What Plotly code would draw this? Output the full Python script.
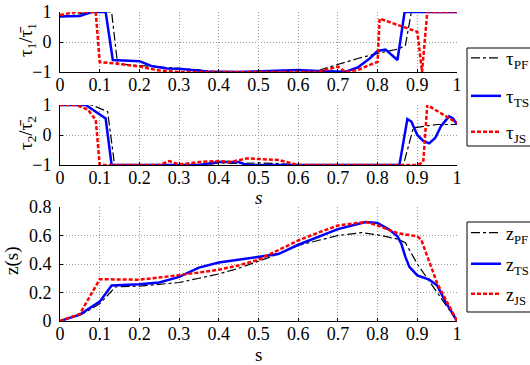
import plotly.graph_objects as go

# ---------------- data ----------------
# tau_1 / tau_1bar
t1_pf_s = [0, 0.03, 0.07, 0.13, 0.145, 0.2, 0.25, 0.3, 0.35, 0.4, 0.5, 0.6, 0.65, 0.7, 0.75, 0.8, 0.85, 0.87, 0.885, 0.9, 1]
t1_pf_v = [0.85, 0.88, 1, 1, -0.73, -0.78, -0.82, -0.86, -0.93, -1, -1, -0.98, -0.95, -0.75, -0.55, -0.38, -0.24, -0.12, 1, 1, 1]

t1_ts_s = [0, 0.05, 0.08, 0.115, 0.133, 0.17, 0.2, 0.23, 0.27, 0.3, 0.33, 0.37, 0.45, 0.5, 0.55, 0.6, 0.65, 0.7, 0.72, 0.75, 0.78, 0.8, 0.82, 0.85, 0.868, 0.88, 1]
t1_ts_v = [0.85, 0.87, 1, 1, -0.6, -0.62, -0.64, -0.8, -0.88, -0.89, -0.92, -0.98, -1, -0.97, -0.94, -0.93, -0.97, -1, -0.99, -0.85, -0.55, -0.3, -0.25, -0.6, 1, 1, 1]

t1_js_s = [0, 0.04, 0.09, 0.1, 0.15, 0.2, 0.25, 0.3, 0.5, 0.65, 0.7, 0.72, 0.75, 0.8, 0.805, 0.9, 0.912, 0.925, 1]
t1_js_v = [0.9, 1, 1, -0.67, -0.73, -0.82, -0.95, -1, -1, -1, -0.82, -1, -0.93, -0.66, 0.78, 0.34, -1, 1, 1]

# tau_2 / tau_2bar
t2_pf_s = [0, 0.08, 0.12, 0.1375, 0.3, 0.38, 0.4, 0.45, 0.5, 0.55, 0.6, 0.7, 0.865, 0.89, 0.92, 0.95, 1]
t2_pf_v = [1, 1, 0.78, -1, -1, -0.97, -0.93, -0.95, -0.93, -0.95, -1, -1, -1, 0.24, 0.3, 0.35, 0.35]

t2_ts_s = [0, 0.065, 0.115, 0.13, 0.35, 0.38, 0.4, 0.45, 0.47, 0.6, 0.855, 0.875, 0.885, 0.9, 0.915, 0.93, 0.945, 0.96, 0.98, 0.99, 1]
t2_ts_v = [1, 1, 0.55, -1, -1, -0.95, -0.9, -0.9, -1, -1, -1, 0.53, 0.45, 0.0, -0.2, -0.28, -0.1, 0.3, 0.62, 0.55, 0.35]

t2_js_s = [0, 0.04, 0.07, 0.09, 0.1, 0.25, 0.275, 0.3, 0.35, 0.4, 0.43, 0.45, 0.47, 0.5, 0.55, 0.6, 0.9, 0.915, 0.925, 1]
t2_js_v = [1, 1, 0.85, 0.5, -1, -1, -0.87, -0.98, -0.9, -0.87, -0.9, -0.83, -0.78, -0.8, -0.83, -1, -1, -0.9, 1, 0.4]

# z(s)
z_pf_s = [0, 0.05, 0.1, 0.14, 0.2, 0.3, 0.35, 0.4, 0.45, 0.5, 0.55, 0.6, 0.7, 0.76, 0.8, 0.85, 0.87, 0.9, 0.95, 1]
z_pf_v = [0, 0.04, 0.12, 0.24, 0.245, 0.27, 0.3, 0.33, 0.37, 0.42, 0.47, 0.53, 0.6, 0.62, 0.605, 0.575, 0.55, 0.4, 0.2, 0]

z_ts_s = [0, 0.05, 0.1, 0.13, 0.2, 0.25, 0.3, 0.35, 0.4, 0.45, 0.5, 0.55, 0.6, 0.7, 0.77, 0.8, 0.83, 0.85, 0.86, 0.87, 0.88, 0.9, 0.93, 0.95, 0.97, 1]
z_ts_v = [0, 0.045, 0.136, 0.249, 0.258, 0.27, 0.31, 0.375, 0.41, 0.43, 0.45, 0.47, 0.535, 0.645, 0.695, 0.688, 0.64, 0.594, 0.54, 0.45, 0.38, 0.32, 0.29, 0.25, 0.14, 0]

z_js_s = [0, 0.05, 0.1, 0.2, 0.25, 0.3, 0.35, 0.4, 0.45, 0.5, 0.55, 0.6, 0.65, 0.7, 0.77, 0.8, 0.85, 0.9, 0.91, 0.95, 1]
z_js_v = [0, 0.05, 0.293, 0.29, 0.305, 0.32, 0.34, 0.36, 0.39, 0.43, 0.5, 0.565, 0.62, 0.67, 0.695, 0.67, 0.617, 0.594, 0.57, 0.265, 0]

x_ticks = [0, 0.1, 0.2, 0.3, 0.4, 0.5, 0.6, 0.7, 0.8, 0.9, 1]
x_ticktext = ["0", "0.1", "0.2", "0.3", "0.4", "0.5", "0.6", "0.7", "0.8", "0.9", "1"]
tau_ticks = [-1, 0, 1]
tau_ticktext = ["\u22121", "0", "1"]
z_ticks = [0, 0.2, 0.4, 0.6, 0.8]
z_ticktext = ["0", "0.2", "0.4", "0.6", "0.8"]

tau_names = ["\u03c4<sub>PF</sub>", "\u03c4<sub>TS</sub>", "\u03c4<sub>JS</sub>"]
z_names = ["z<sub>PF</sub>", "z<sub>TS</sub>", "z<sub>JS</sub>"]

# ---------------- styling ----------------
FONT = "Liberation Serif, Times New Roman, serif"
W, H = 530, 365
styles = [
    dict(color="black", width=1.2, dash="dashdot"),
    dict(color="#0000ff", width=2.5, dash="solid"),
    dict(color="#ff0000", width=2.5, dash="4px,2px"),
]

def px_x(p):
    return p / W

def px_y(p):
    return 1 - p / H

fig = go.Figure()

def add(sx, sv, name, style, xa, ya, legend, show):
    fig.add_trace(go.Scatter(
        x=sx, y=sv, mode="lines", name=name, line=style,
        xaxis=xa, yaxis=ya, legend=legend, showlegend=show,
    ))

tau1 = [(t1_pf_s, t1_pf_v), (t1_ts_s, t1_ts_v), (t1_js_s, t1_js_v)]
tau2 = [(t2_pf_s, t2_pf_v), (t2_ts_s, t2_ts_v), (t2_js_s, t2_js_v)]
zz = [(z_pf_s, z_pf_v), (z_ts_s, z_ts_v), (z_js_s, z_js_v)]
tau_leg = ["legend", "legend2", "legend3"]
z_leg = ["legend4", "legend5", "legend6"]

for (sx, sv), nm, st, lg in zip(tau1, tau_names, styles, tau_leg):
    add(sx, sv, nm, st, "x", "y", lg, True)
for (sx, sv), nm, st, lg in zip(tau2, tau_names, styles, tau_leg):
    add(sx, sv, nm, st, "x2", "y2", lg, False)
for (sx, sv), nm, st, lg in zip(zz, z_names, styles, z_leg):
    add(sx, sv, nm, st, "x3", "y3", lg, True)

xdom = [px_x(60), px_x(457)]

common_x = dict(
    range=[0, 1], tickvals=x_ticks, ticktext=x_ticktext,
    showline=True, linecolor="black", linewidth=1,
    ticks="inside", ticklen=3, tickcolor="black",
    showgrid=True, gridcolor="#999999", griddash="1px,2px", gridwidth=1,
    zeroline=False, tickfont=dict(family=FONT, size=18, color="black"),
    domain=xdom, mirror=False, ticklabelstandoff=-4,
)
common_y = dict(
    showline=True, linecolor="black", linewidth=1,
    ticks="inside", ticklen=3, tickcolor="black",
    showgrid=True, gridcolor="#999999", griddash="1px,2px", gridwidth=1,
    zeroline=False, tickfont=dict(family=FONT, size=18, color="black"),
    ticklabelstandoff=4,
)

ann_common = dict(xref="paper", yref="paper", showarrow=False,
                  xanchor="center", yanchor="middle")

# legend entry centres (px from top) and boxes
tau_leg_y = [58, 96, 132]
z_leg_y = [233, 264, 294]
LEG_X = 466

legends = {}
for lg, yy, fs in zip(tau_leg + z_leg, tau_leg_y + z_leg_y, [19, 19, 19, 18, 18, 18]):
    legends[lg] = dict(
        x=px_x(LEG_X), y=px_y(yy), xanchor="left", yanchor="middle",
        borderwidth=0, bgcolor="rgba(0,0,0,0)",
        font=dict(family=FONT, size=fs, color="black"),
    )

shapes = [
    dict(type="rect", xref="paper", yref="paper",
         x0=px_x(467), x1=px_x(540), y0=px_y(146), y1=px_y(48),
         line=dict(color="black", width=1), fillcolor="white", layer="below"),
    dict(type="rect", xref="paper", yref="paper",
         x0=px_x(467), x1=px_x(540), y0=px_y(312), y1=px_y(222),
         line=dict(color="black", width=1), fillcolor="white", layer="below"),
]

fig.update_layout(
    width=W, height=H, autosize=False,
    margin=dict(l=0, r=0, t=0, b=0, autoexpand=False),
    paper_bgcolor="white", plot_bgcolor="white",
    font=dict(family=FONT, size=18, color="black"),
    xaxis=dict(common_x, anchor="y"),
    xaxis2=dict(common_x, anchor="y2"),
    xaxis3=dict(common_x, anchor="y3"),
    yaxis=dict(common_y, range=[-1, 1], tickvals=tau_ticks, ticktext=tau_ticktext,
               domain=[px_y(72), px_y(12)], anchor="x"),
    yaxis2=dict(common_y, range=[-1, 1], tickvals=tau_ticks, ticktext=tau_ticktext,
                domain=[px_y(165), px_y(105)], anchor="x2"),
    yaxis3=dict(common_y, range=[0, 0.8], tickvals=z_ticks, ticktext=z_ticktext,
                domain=[px_y(321), px_y(207)], anchor="x3"),
    shapes=shapes,
    annotations=[
        dict(ann_common, text="\u03c4<sub>1</sub>/\u03c4\u0304<sub>1</sub>", x=px_x(27), y=px_y(40),
             textangle=-90, font=dict(family=FONT, size=19)),
        dict(ann_common, text="\u03c4<sub>2</sub>/\u03c4\u0304<sub>2</sub>", x=px_x(27), y=px_y(133),
             textangle=-90, font=dict(family=FONT, size=19)),
        dict(ann_common, text="z(s)", x=px_x(12), y=px_y(261),
             textangle=-90, font=dict(family=FONT, size=19)),
        dict(ann_common, text="<i>s</i>", x=px_x(258), y=px_y(197),
             font=dict(family=FONT, size=19)),
        dict(ann_common, text="s", x=px_x(258), y=px_y(354),
             font=dict(family=FONT, size=19)),
    ],
    **legends,
)

fig.write_html("out.html")
